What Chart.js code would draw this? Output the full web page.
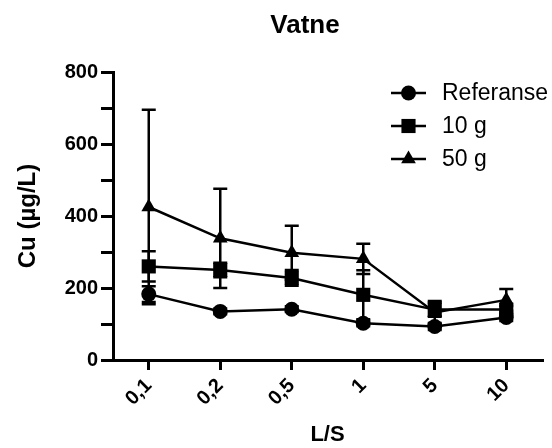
<!DOCTYPE html>
<html>
<head>
<meta charset="utf-8">
<script src="https://cdn.jsdelivr.net/npm/chart.js@4"></script>
<style>
html, body { margin: 0; padding: 0; background: #fff; }
</style>
</head>
<body>
<canvas id="chart" width="552" height="448"></canvas>
<script>
// values
const chartTitle = 'Vatne';
const categories = ['0,1', '0,2', '0,5', '1', '5', '10'];
const refValues = [183, 135, 141, 102, 93, 118];
const refErrors = [22, 8, 8, 8, 10, 10];
const g10Values = [260, 250, 228, 181, 140, 140];
const g10Errors = [42, 20, 22, 68, 20, 10];
const g50Values = [425, 338, 298, 281, 132, 167];
const g50Errors = [270, 138, 75, 42, 32, 30];
const yLabelled = [0, 200, 400, 600, 800];

const FONT = "'Liberation Sans', Arial, Helvetica, sans-serif";
Chart.defaults.font.family = FONT;
Chart.defaults.color = '#000';

// marker shapes, same geometry as chart.js point styles
function drawMarker(ctx, style, r, x, y) {
    ctx.beginPath();
    if (style === 'circle') {
        ctx.arc(x, y, r, 0, Math.PI * 2);
    } else if (style === 'rect') {
        const s = r * Math.SQRT1_2;
        ctx.rect(x - s, y - s, 2 * s, 2 * s);
    } else {
        ctx.moveTo(x, y - r);
        ctx.lineTo(x + Math.sin(2 * Math.PI / 3) * r, y + r / 2);
        ctx.lineTo(x - Math.sin(2 * Math.PI / 3) * r, y + r / 2);
        ctx.closePath();
    }
    ctx.fill();
}

// vertical error bars with caps, drawn under the markers
const errorBars = {
    id: 'errorBars',
    beforeDatasetsDraw(chart) {
        const ctx = chart.ctx;
        const yScale = chart.scales.y;
        ctx.save();
        ctx.strokeStyle = '#000';
        ctx.lineWidth = 2.5;
        chart.data.datasets.forEach((ds, di) => {
            chart.getDatasetMeta(di).data.forEach((pt, i) => {
                const top = yScale.getPixelForValue(ds.data[i] + ds.errors[i]);
                const bot = yScale.getPixelForValue(ds.data[i] - ds.errors[i]);
                ctx.beginPath();
                ctx.moveTo(pt.x, top); ctx.lineTo(pt.x, bot);
                ctx.moveTo(pt.x - 7, top); ctx.lineTo(pt.x + 7, top);
                ctx.moveTo(pt.x - 7, bot); ctx.lineTo(pt.x + 7, bot);
                ctx.stroke();
            });
        });
        ctx.restore();
    }
};

// legend inside the plot (top right) and the title, placed like the original
const plotLegend = {
    id: 'plotLegend',
    afterDraw(chart) {
        const ctx = chart.ctx;
        const x0 = 391;
        const rows = [93, 126, 159];
        ctx.save();
        chart.data.datasets.forEach((ds, i) => {
            const y = rows[i];
            ctx.strokeStyle = '#000';
            ctx.fillStyle = '#000';
            ctx.lineWidth = 2.5;
            ctx.beginPath();
            ctx.moveTo(x0, y); ctx.lineTo(x0 + 35, y);
            ctx.stroke();
            drawMarker(ctx, ds.pointStyle, ds.pointRadius, x0 + 17.5, y);
            ctx.font = '23px ' + FONT;
            ctx.textAlign = 'left';
            ctx.textBaseline = 'middle';
            ctx.fillText(ds.label, x0 + 51, y + 1);
        });
        ctx.font = 'bold 26px ' + FONT;
        ctx.textAlign = 'center';
        ctx.textBaseline = 'middle';
        ctx.fillText(chartTitle, 305, 26);
        ctx.restore();
    }
};

function series(label, values, errors, style, radius) {
    return {
        label: label,
        data: values,
        errors: errors,
        borderColor: '#000',
        borderWidth: 2.5,
        tension: 0,
        pointStyle: style,
        pointRadius: radius,
        pointBackgroundColor: '#000',
        pointBorderColor: '#000',
        pointBorderWidth: 0,
        fill: false
    };
}

new Chart(document.getElementById('chart'), {
    type: 'line',
    data: {
        labels: categories,
        datasets: [
            series('Referanse', refValues, refErrors, 'circle', 7.5),
            series('10 g', g10Values, g10Errors, 'rect', 10),
            series('50 g', g50Values, g50Errors, 'triangle', 8.5)
        ]
    },
    plugins: [errorBars, plotLegend],
    options: {
        responsive: false,
        animation: false,
        layout: { padding: { left: 0, right: 7, top: 72, bottom: 0 } },
        plugins: {
            legend: { display: false },
            tooltip: { enabled: false },
            title: { display: false }
        },
        scales: {
            x: {
                offset: true,
                grid: { drawOnChartArea: false, drawTicks: true, tickLength: 10, color: '#000', lineWidth: 3, offset: false },
                border: { display: true, color: '#000', width: 3 },
                ticks: { color: '#000', font: { size: 20, weight: 'bold' }, minRotation: 45, maxRotation: 45, padding: 4 },
                title: { display: true, text: 'L/S', color: '#000', font: { size: 22, weight: 'bold' }, padding: { top: 0, bottom: 0 } },
                afterFit(scale) { scale.height = 88; }
            },
            y: {
                min: 0,
                max: 800,
                grid: { drawOnChartArea: false, drawTicks: true, tickLength: 12, color: '#000', lineWidth: 3 },
                border: { display: true, color: '#000', width: 3 },
                ticks: {
                    stepSize: 100,
                    color: '#000',
                    padding: 3,
                    font: { size: 20, weight: 'bold' },
                    callback: v => yLabelled.includes(v) ? String(v) : ''
                },
                title: { display: true, text: 'Cu (µg/L)', color: '#000', font: { size: 24, weight: 'bold' }, padding: { top: 14, bottom: 0 } },
                afterFit(scale) { scale.width = 113; }
            }
        }
    }
});
</script>
</body>
</html>
